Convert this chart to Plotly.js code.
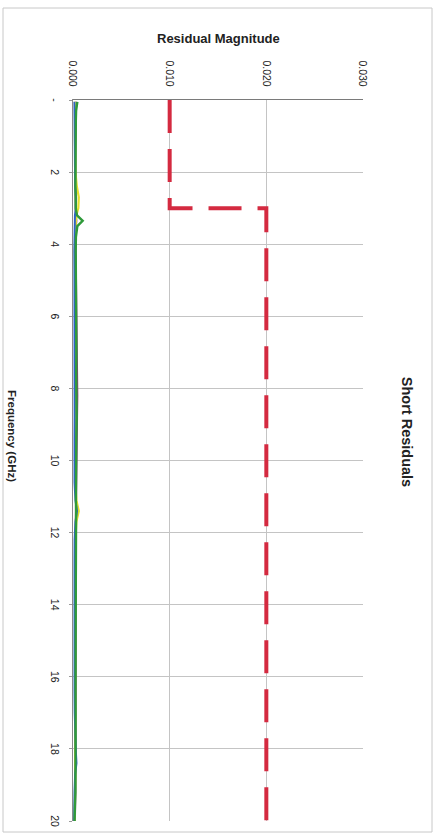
<!DOCTYPE html>
<html>
<head>
<meta charset="utf-8">
<script src="https://cdn.plot.ly/plotly-3.0.1.min.js"></script>
<style>
  html, body { margin: 0; padding: 0; background: #ffffff; overflow: hidden; }
  body { width: 439px; height: 835px; position: relative; }
  /* the chart is laid out landscape and turned a quarter turn clockwise */
  #chart {
    position: absolute; left: 0; top: 0;
    width: 835px; height: 439px;
    transform-origin: 0 0;
    transform: translate(439px, 0) rotate(90deg);
  }
</style>
</head>
<body>
<div id="chart"></div>
<script>
// Frequency sample points (GHz)
const freqGHz = [0.05, 0.3, 0.6, 1.0, 1.5, 2.0, 2.4, 2.7, 3.0, 3.2, 3.35, 3.5, 3.8, 4.2, 4.7, 5.2,
                 5.8, 6.4, 7.0, 7.6, 8.2, 8.8, 9.4, 10.0, 10.6, 11.1, 11.4, 11.7, 12.2, 12.8, 13.4,
                 14.0, 14.6, 15.2, 15.8, 16.4, 17.0, 17.6, 18.1, 18.4, 18.7, 19.2, 19.6, 20.0];

// Measured residual magnitudes, one series per standard
const residPurple = [0.00030, 0.00028, 0.00026, 0.00025, 0.00024, 0.00025, 0.00024, 0.00026, 0.00027, 0.00030,
                     0.00035, 0.00030, 0.00028, 0.00027, 0.00030, 0.00033, 0.00036, 0.00040, 0.00044, 0.00046,
                     0.00045, 0.00042, 0.00038, 0.00034, 0.00030, 0.00028, 0.00030, 0.00029, 0.00027, 0.00028,
                     0.00027, 0.00026, 0.00027, 0.00029, 0.00030, 0.00028, 0.00026, 0.00027, 0.00028, 0.00027,
                     0.00025, 0.00024, 0.00022, 0.00020];
const residYellow = [0.00020, 0.00022, 0.00021, 0.00020, 0.00021, 0.00025, 0.00040, 0.00060, 0.00055, 0.00035,
                     0.00030, 0.00025, 0.00022, 0.00020, 0.00022, 0.00024, 0.00026, 0.00025, 0.00027, 0.00026,
                     0.00025, 0.00024, 0.00023, 0.00022, 0.00024, 0.00035, 0.00060, 0.00035, 0.00024, 0.00022,
                     0.00021, 0.00022, 0.00023, 0.00022, 0.00021, 0.00020, 0.00022, 0.00023, 0.00025, 0.00028,
                     0.00024, 0.00021, 0.00020, 0.00018];
const residBlue   = [0.00015, 0.00016, 0.00015, 0.00014, 0.00015, 0.00017, 0.00022, 0.00032, 0.00030, 0.00020,
                     0.00018, 0.00016, 0.00015, 0.00014, 0.00015, 0.00016, 0.00017, 0.00018, 0.00020, 0.00019,
                     0.00018, 0.00017, 0.00016, 0.00015, 0.00016, 0.00025, 0.00042, 0.00025, 0.00017, 0.00016,
                     0.00015, 0.00016, 0.00017, 0.00016, 0.00015, 0.00016, 0.00018, 0.00022, 0.00030, 0.00036,
                     0.00022, 0.00016, 0.00014, 0.00012];
const residGreen  = [0.00045, 0.00032, 0.00029, 0.00027, 0.00026, 0.00028, 0.00025, 0.00027, 0.00028, 0.00042,
                     0.00100, 0.00045, 0.00030, 0.00028, 0.00030, 0.00032, 0.00034, 0.00036, 0.00035, 0.00033,
                     0.00036, 0.00038, 0.00034, 0.00030, 0.00028, 0.00030, 0.00032, 0.00030, 0.00028, 0.00030,
                     0.00029, 0.00027, 0.00028, 0.00030, 0.00028, 0.00026, 0.00027, 0.00028, 0.00030, 0.00031,
                     0.00028, 0.00025, 0.00020, 0.00016];

// Acceptance limit (step at 3 GHz)
const limitFreqGHz = [0, 3, 3, 20];
const limitValue   = [0.010, 0.010, 0.020, 0.020];

// Axis ticks
const freqTickVals  = [0, 2, 4, 6, 8, 10, 12, 14, 16, 18, 20];
const freqTickText  = ['-', '2', '4', '6', '8', '10', '12', '14', '16', '18', '20'];
const residTickVals = [0.000, 0.010, 0.020, 0.030];
const residTickText = ['0.000', '0.010', '0.020', '0.030'];

const FONT = 'Liberation Sans, Arial, sans-serif';

const traces = [
  { x: limitFreqGHz, y: limitValue, mode: 'lines', name: 'Limit',
    line: { color: '#d42a40', width: 4, dash: '33px,16px' } },
  { x: freqGHz, y: residPurple, mode: 'lines', name: 'Series 1',
    line: { color: '#8c3a78', width: 2 } },
  { x: freqGHz, y: residYellow, mode: 'lines', name: 'Series 2',
    line: { color: '#e6e02c', width: 2.2 } },
  { x: freqGHz, y: residBlue, mode: 'lines', name: 'Series 3',
    line: { color: '#2f62c8', width: 2 } },
  { x: freqGHz, y: residGreen, mode: 'lines', name: 'Series 4',
    line: { color: '#2f9a3a', width: 2.4 } }
];

const layout = {
  width: 835, height: 439,
  margin: { l: 100, r: 14, t: 76, b: 73, pad: 0 },
  paper_bgcolor: '#ffffff',
  plot_bgcolor: '#ffffff',
  showlegend: false,
  font: { family: FONT, color: '#222222', size: 10 },
  title: {
    text: '<b>Short Residuals</b>',
    font: { family: FONT, size: 14.5, color: '#222222' },
    xref: 'container', yref: 'container',
    x: 432 / 835, xanchor: 'center',
    y: 1 - 32 / 439, yanchor: 'middle'
  },
  xaxis: {
    range: [0, 20],
    tickmode: 'array', tickvals: freqTickVals, ticktext: freqTickText,
    ticks: 'outside', ticklen: 3, tickcolor: '#999999',
    ticklabelstandoff: 5,
    tickfont: { family: FONT, size: 10.5, color: '#222222' },
    showgrid: true, gridcolor: '#c4c4c4', gridwidth: 1,
    showline: true, linecolor: '#8a8a8a', linewidth: 1,
    zeroline: false, fixedrange: true
  },
  yaxis: {
    range: [0, 0.03],
    tickmode: 'array', tickvals: residTickVals, ticktext: residTickText,
    ticks: '', ticklabelstandoff: 10,
    tickfont: { family: FONT, size: 10.5, color: '#222222' },
    showgrid: true, gridcolor: '#c4c4c4', gridwidth: 1,
    showline: true, linecolor: '#7a7a7a', linewidth: 1.2,
    zeroline: false, fixedrange: true
  },
  annotations: [
    { text: '<b>Residual Magnitude</b>', xref: 'paper', yref: 'paper',
      x: (38 - 100) / 721, y: 0.5, xanchor: 'center', yanchor: 'middle',
      textangle: -90, showarrow: false,
      font: { family: FONT, size: 13, color: '#222222' } },
    { text: '<b>Frequency (GHz)</b>', xref: 'paper', yref: 'paper',
      x: (436 - 100) / 721, y: (366 - 427) / 290, xanchor: 'center', yanchor: 'middle',
      showarrow: false,
      font: { family: FONT, size: 11.5, color: '#222222' } }
  ],
  shapes: [
    { type: 'rect', xref: 'paper', yref: 'paper',
      x0: (8 - 100) / 721, x1: (832 - 100) / 721,
      y0: (366 - 436) / 290, y1: (366 - 7) / 290,
      line: { color: '#c8c8c8', width: 1 }, fillcolor: 'rgba(0,0,0,0)', layer: 'below' }
  ]
};

Plotly.newPlot('chart', traces, layout, { staticPlot: true, displayModeBar: false });
</script>
</body>
</html>
